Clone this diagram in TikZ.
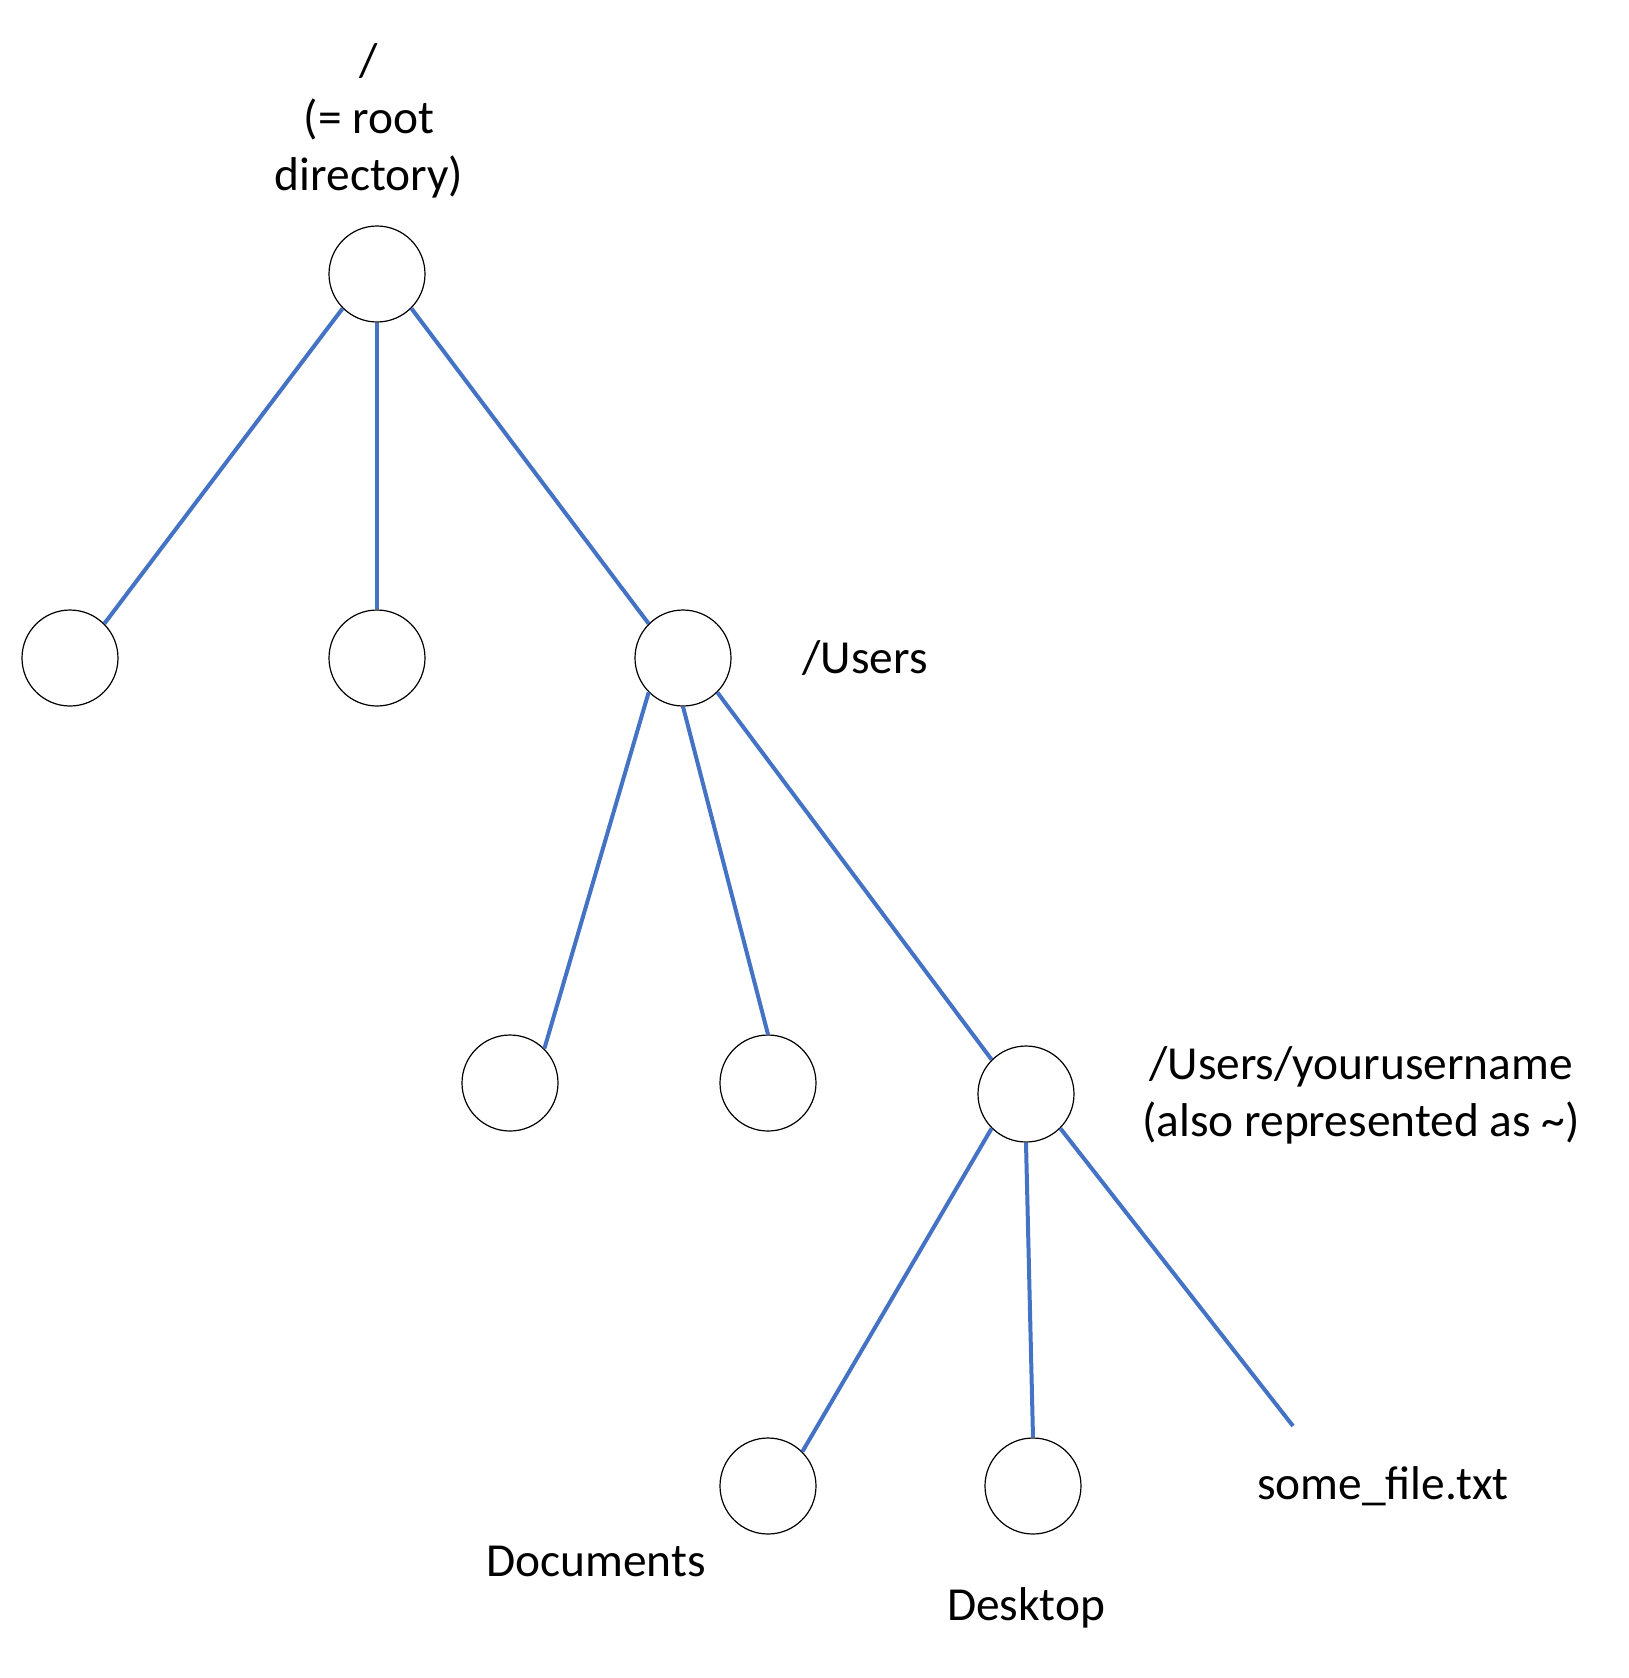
\documentclass[tikz,border=0pt]{standalone}
\usepackage{fontspec}
\setmainfont{Carlito}
\usepackage{tikz}

\definecolor{linkblue}{HTML}{4472C4}

\tikzset{
    dir/.style={circle, draw=black, line width=0.6pt, fill=white, minimum size=48pt, inner sep=0pt},
    link/.style={linkblue, line width=2pt},
    lbl/.style={inner sep=0pt, align=center, font=\fontsize{23.7}{28.6}\selectfont}
}

\begin{document}
\begin{tikzpicture}[x=0.5pt, y=-0.5pt]
    \useasboundingbox (0,0) rectangle (1629,1678);

    % Carpetas
    \node[dir] (root)  at (377,274)   {};
    \node[dir] (left)  at (70,658)    {};
    \node[dir] (mid)   at (377,658)   {};
    \node[dir] (users) at (683,658)   {};
    \node[dir] (uleft) at (510,1083)  {};
    \node[dir] (umid)  at (768,1083)  {};
    \node[dir] (home)  at (1026,1094) {};
    \node[dir] (docs)  at (768,1486)  {};
    \node[dir] (desk)  at (1033,1486) {};
    \coordinate (file) at (1293,1426);

    % Enlaces desde la raiz
    \draw[link] (root.south west) -- (left.north east);
    \draw[link] (root.south) -- (mid.north);
    \draw[link] (root.south east) -- (users.north west);

    % Enlaces desde /Users
    \draw[link] (users.south west) -- (uleft.north east);
    \draw[link] (users.south) -- (umid.north);
    \draw[link] (users.south east) -- (home.north west);

    % Enlaces desde el directorio personal
    \draw[link] (home.south west) -- (docs.north east);
    \draw[link] (home.south) -- (desk.north);
    \draw[link] (home.south east) -- (file);

    % Etiquetas
    \node[lbl] (rootlbl)  at (369,121)  {/\\(= root\\directory)};
    \node[lbl] (userslbl) at (865,658)  {/Users};
    \node[lbl] (homelbl)  at (1361,1095) {/Users/yourusername\\(also represented as \textasciitilde)};
    \node[lbl] (filelbl)  at (1383,1486) {some\_file.txt};
    \node[lbl] (docslbl)  at (596,1561) {Documents};
    \node[lbl] (desklbl)  at (1026,1608) {Desktop};
\end{tikzpicture}
\end{document}
